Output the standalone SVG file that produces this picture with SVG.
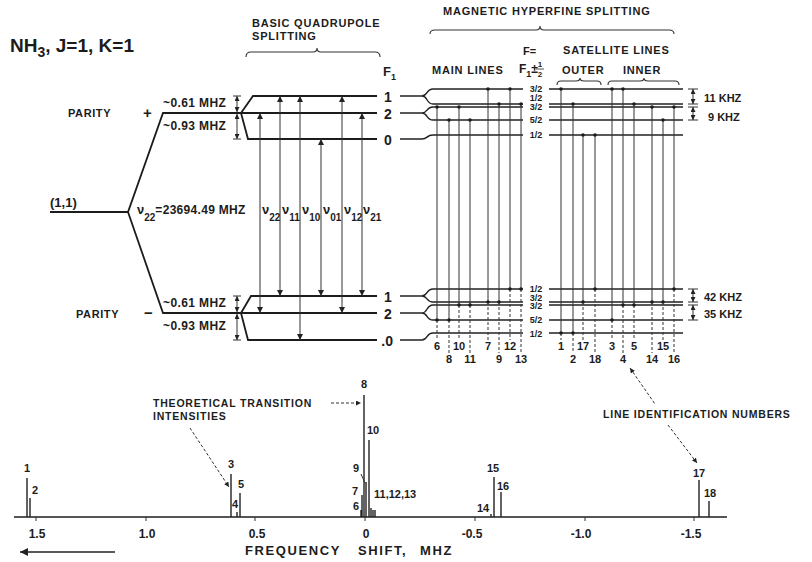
<svg xmlns="http://www.w3.org/2000/svg" width="812" height="562" viewBox="0 0 812 562">
<defs>
<style>
text{font-family:"Liberation Sans",Arial,sans-serif;font-weight:bold;fill:#1c1c1c}
.lv{stroke:#1c1c1c;stroke-width:1.8;fill:none}
.hf{stroke:#222;stroke-width:1.4;fill:none}
.tr{stroke:#333;stroke-width:1;fill:none}
.ds{stroke:#333;stroke-width:1;stroke-dasharray:3,2;fill:none}
.br{stroke:#333;stroke-width:1.1;fill:none}
.sp{stroke:#222;stroke-width:1.4}
.hd{font-size:11px;letter-spacing:0.8px}
.sm{font-size:9px}
.nm{font-size:11px}
.lvl{font-size:14px}
.tk{font-size:12px}
.mhz{font-size:12px;letter-spacing:0.4px}
.dot{fill:#1c1c1c}
</style>
<marker id="ah" viewBox="0 0 8 8" refX="8" refY="4" markerWidth="6" markerHeight="6" orient="auto-start-reverse"><path d="M0,0 L8,4 L0,8 z" fill="#222"/></marker>
<marker id="ah2" viewBox="0 0 8 8" refX="8" refY="4" markerWidth="5" markerHeight="5" orient="auto-start-reverse"><path d="M0,0 L8,4 L0,8 z" fill="#222"/></marker>
</defs>
<rect width="812" height="562" fill="#fff"/>

<!-- Title -->
<g id="title">
<text x="10" y="52" font-size="19">NH<tspan dy="5" font-size="14">3</tspan><tspan dy="-5">, J=1, K=1</tspan></text>
</g>

<!-- Headings -->
<g id="quad-heading">
<text class="hd" x="252" y="27">BASIC QUADRUPOLE</text>
<text class="hd" x="252" y="40">SPLITTING</text>
<path class="br" d="M246,57 Q246,52 251,52 L313,52 Q317,52 317,48 Q317,52 321,52 L375,52 Q380,52 380,57"/>
</g>
<g id="mag-heading">
<text class="hd" x="443" y="15">MAGNETIC HYPERFINE SPLITTING</text>
<path class="br" d="M430,34 Q430,30 435,30 L536,30 Q540,30 540,26 Q540,30 544,30 L669,30 Q674,30 674,34"/>
<text class="hd" x="432" y="74">MAIN LINES</text>
<text class="hd" x="563" y="54">SATELLITE LINES</text>
<text class="hd" x="562" y="74">OUTER</text>
<text class="hd" x="623" y="74">INNER</text>
<path class="br" d="M557,85 Q557,81 561,81 L576,81 Q580,81 580,78 Q580,81 584,81 L597,81 Q601,81 601,85"/>
<path class="br" d="M608,85 Q608,81 612,81 L640,81 Q644,81 644,78 Q644,81 648,81 L675,81 Q679,81 679,85"/>
<text x="523" y="55" font-size="11">F=</text>
<text x="519" y="73" font-size="12">F<tspan dy="4" font-size="9">1</tspan><tspan dy="-4">±</tspan></text>
<text x="540" y="67" font-size="8" text-anchor="middle">1</text>
<line x1="536" y1="69" x2="544" y2="69" stroke="#222" stroke-width="0.8"/>
<text x="540" y="77" font-size="8" text-anchor="middle">2</text>
<text x="383" y="76" font-size="13">F<tspan dy="4" font-size="9">1</tspan></text>
</g>

<!-- Left energy level tree -->
<g id="levels-left">
<path class="lv" d="M50,212 L128,212 L163,113 L377,113"/>
<path class="lv" d="M128,212 L163,313 L377,313"/>
<path class="lv" d="M241,113 L253,96 L377,96"/>
<path class="lv" d="M241,113 L248,139 L377,139"/>
<path class="lv" d="M241,313 L251,296 L377,296"/>
<path class="lv" d="M241,313 L248,340 L377,340"/>
<text x="50" y="207" font-size="13">(1,1)</text>
<text x="137" y="214" font-size="13">ν<tspan dy="7" font-size="10">22</tspan><tspan dy="-7" font-size="12" letter-spacing="0.3">=23694.49 MHZ</tspan></text>
<text x="68" y="117" font-size="11" letter-spacing="0.6">PARITY</text>
<text x="143" y="118" font-size="15">+</text>
<text x="76" y="318" font-size="11" letter-spacing="0.6">PARITY</text>
<text x="144" y="318" font-size="15">−</text>
<text class="mhz" x="163" y="107">~0.61 MHZ</text>
<text class="mhz" x="163" y="130">~0.93 MHZ</text>
<text class="mhz" x="163" y="307">~0.61 MHZ</text>
<text class="mhz" x="163" y="330">~0.93 MHZ</text>
<text class="lvl" x="388" y="102" text-anchor="middle">1</text>
<text class="lvl" x="388" y="119" text-anchor="middle">2</text>
<text class="lvl" x="388" y="145" text-anchor="middle">0</text>
<text class="lvl" x="388" y="302" text-anchor="middle">1</text>
<text class="lvl" x="388" y="319" text-anchor="middle">2</text>
<text class="lvl" x="393" y="346" text-anchor="end">.0</text>
</g>

<!-- dimension markers left -->
<g id="dims-left">
<line class="tr" x1="237" y1="96" x2="237" y2="112" marker-start="url(#ah2)" marker-end="url(#ah2)"/>
<line class="tr" x1="237" y1="114" x2="237" y2="139" marker-start="url(#ah2)" marker-end="url(#ah2)"/>
<line class="tr" x1="233" y1="96" x2="241" y2="96"/>
<line class="tr" x1="233" y1="139" x2="241" y2="139"/>
<line class="tr" x1="237" y1="296" x2="237" y2="312" marker-start="url(#ah2)" marker-end="url(#ah2)"/>
<line class="tr" x1="237" y1="314" x2="237" y2="340" marker-start="url(#ah2)" marker-end="url(#ah2)"/>
<line class="tr" x1="233" y1="296" x2="241" y2="296"/>
<line class="tr" x1="233" y1="340" x2="241" y2="340"/>
</g>

<!-- quadrupole transitions -->
<g id="quad-transitions">
<line class="tr" x1="260" y1="113" x2="260" y2="313" marker-start="url(#ah)" marker-end="url(#ah)"/>
<line class="tr" x1="280" y1="96" x2="280" y2="296" marker-start="url(#ah)" marker-end="url(#ah)"/>
<line class="tr" x1="300" y1="96" x2="300" y2="340" marker-start="url(#ah)" marker-end="url(#ah)"/>
<line class="tr" x1="321" y1="139" x2="321" y2="296" marker-start="url(#ah)" marker-end="url(#ah)"/>
<line class="tr" x1="342" y1="96" x2="342" y2="313" marker-start="url(#ah)" marker-end="url(#ah)"/>
<line class="tr" x1="362" y1="113" x2="362" y2="296" marker-start="url(#ah)" marker-end="url(#ah)"/>
<text x="262" y="214" font-size="13">ν<tspan dy="7" font-size="10">22</tspan></text>
<text x="282" y="214" font-size="13">ν<tspan dy="7" font-size="10">11</tspan></text>
<text x="302" y="214" font-size="13">ν<tspan dy="7" font-size="10">10</tspan></text>
<text x="323" y="214" font-size="13">ν<tspan dy="7" font-size="10">01</tspan></text>
<text x="344" y="214" font-size="13">ν<tspan dy="7" font-size="10">12</tspan></text>
<text x="363" y="214" font-size="13">ν<tspan dy="7" font-size="10">21</tspan></text>
</g>

<!-- hyperfine levels -->
<g id="hyperfine-levels">
<path class="hf" d="M400,96 L422,96 C428,96 426,89 433,89 M422,96 C428,96 426,104 433,104"/>
<path class="hf" d="M400,113 L422,113 C428,113 426,107 433,107 M422,113 C428,113 426,120 433,120"/>
<path class="hf" d="M400,139 L422,139 C428,139 426,135 433,135"/>
<path class="hf" d="M400,296 L422,296 C428,296 426,289 433,289 M422,296 C428,296 426,302 433,302"/>
<path class="hf" d="M400,313 L422,313 C428,313 426,305 433,305 M422,313 C428,313 426,320 433,320"/>
<path class="hf" d="M400,340 L422,340 C428,340 426,333 433,333"/>
<path class="hf" d="M433,89 H523 M549,89 H683 M433,104 H523 M549,104 H683 M433,107 H523 M549,107 H683 M433,120 H523 M549,120 H683 M433,135 H523 M549,135 H683"/>
<path class="hf" d="M433,289 H523 M549,289 H683 M433,302 H523 M549,302 H683 M433,305 H523 M549,305 H683 M433,320 H523 M549,320 H683 M433,333 H523 M549,333 H683"/>
<g class="sm" text-anchor="middle">
<text x="536" y="92">3/2</text>
<text x="536" y="101">1/2</text>
<text x="536" y="110">3/2</text>
<text x="536" y="123">5/2</text>
<text x="536" y="138">1/2</text>
<text x="536" y="292">1/2</text>
<text x="536" y="300.5">3/2</text>
<text x="536" y="309">3/2</text>
<text x="536" y="323">5/2</text>
<text x="536" y="336.5">1/2</text>
</g>
</g>

<!-- KHZ markers -->
<g id="dims-right">
<path class="tr" d="M688,89 H698 M688,104 H698 M688,107 H698 M688,120 H698 M688,289 H698 M688,302 H698 M688,305 H698 M688,320 H698"/>
<line class="tr" x1="693" y1="89" x2="693" y2="104" marker-start="url(#ah2)" marker-end="url(#ah2)"/>
<line class="tr" x1="693" y1="107" x2="693" y2="120" marker-start="url(#ah2)" marker-end="url(#ah2)"/>
<line class="tr" x1="693" y1="289" x2="693" y2="302" marker-start="url(#ah2)" marker-end="url(#ah2)"/>
<line class="tr" x1="693" y1="305" x2="693" y2="320" marker-start="url(#ah2)" marker-end="url(#ah2)"/>
<text x="704" y="102" font-size="11">11 KHZ</text>
<text x="708" y="121" font-size="11">9 KHZ</text>
<text x="704" y="301" font-size="11">42 KHZ</text>
<text x="704" y="318" font-size="11">35 KHZ</text>
</g>

<!-- hyperfine transitions -->
<g id="hf-transitions">
<path class="tr" d="M437,107 V320 M449,120 V320 M459,107 V305 M470,120 V305 M488,89 V302 M499,104 V302 M510,89 V289 M521,104 V289"/>
<path class="tr" d="M561,89 V333 M573,104 V333 M583,135 V302 M595,135 V289 M612,89 V320 M623,89 V305 M634,104 V305 M652,107 V302 M663,120 V302 M674,107 V289"/>
<path class="ds" d="M437,320 V340 M449,320 V353 M459,305 V340 M470,305 V353 M488,302 V340 M499,302 V353 M510,289 V340 M521,289 V353"/>
<path class="ds" d="M561,333 V340 M573,333 V353 M583,302 V340 M595,289 V353 M612,320 V340 M623,305 V353 M634,305 V340 M652,302 V353 M663,302 V340 M674,289 V353"/>
<g class="dot">
<circle cx="437" cy="107" r="1.8"/><circle cx="437" cy="320" r="1.8"/>
<circle cx="449" cy="120" r="1.8"/><circle cx="449" cy="320" r="1.8"/>
<circle cx="459" cy="107" r="1.8"/><circle cx="459" cy="305" r="1.8"/>
<circle cx="470" cy="120" r="1.8"/><circle cx="470" cy="305" r="1.8"/>
<circle cx="488" cy="89" r="1.8"/><circle cx="488" cy="302" r="1.8"/>
<circle cx="499" cy="104" r="1.8"/><circle cx="499" cy="302" r="1.8"/>
<circle cx="510" cy="89" r="1.8"/><circle cx="510" cy="289" r="1.8"/>
<circle cx="521" cy="104" r="1.8"/><circle cx="521" cy="289" r="1.8"/>
<circle cx="561" cy="89" r="1.8"/><circle cx="561" cy="333" r="1.8"/>
<circle cx="573" cy="104" r="1.8"/><circle cx="573" cy="333" r="1.8"/>
<circle cx="583" cy="135" r="1.8"/><circle cx="583" cy="302" r="1.8"/>
<circle cx="595" cy="135" r="1.8"/><circle cx="595" cy="289" r="1.8"/>
<circle cx="612" cy="89" r="1.8"/><circle cx="612" cy="320" r="1.8"/>
<circle cx="623" cy="89" r="1.8"/><circle cx="623" cy="305" r="1.8"/>
<circle cx="634" cy="104" r="1.8"/><circle cx="634" cy="305" r="1.8"/>
<circle cx="652" cy="107" r="1.8"/><circle cx="652" cy="302" r="1.8"/>
<circle cx="663" cy="120" r="1.8"/><circle cx="663" cy="302" r="1.8"/>
<circle cx="674" cy="107" r="1.8"/><circle cx="674" cy="289" r="1.8"/>
</g>
<g class="nm" text-anchor="middle">
<text x="437" y="350">6</text><text x="449" y="363">8</text>
<text x="459" y="350">10</text><text x="470" y="363">11</text>
<text x="488" y="350">7</text><text x="499" y="363">9</text>
<text x="510" y="350">12</text><text x="521" y="363">13</text>
<text x="561" y="350">1</text><text x="573" y="363">2</text>
<text x="583" y="350">17</text><text x="595" y="363">18</text>
<text x="612" y="350">3</text><text x="623" y="363">4</text>
<text x="634" y="350">5</text><text x="652" y="363">14</text>
<text x="663" y="350">15</text><text x="674" y="363">16</text>
</g>
</g>

<!-- spectrum -->
<g id="spectrum">
<line x1="14" y1="517" x2="727" y2="517" stroke="#1c1c1c" stroke-width="1.6"/>
<path class="tr" d="M36,517 V521 M146,517 V521 M255,517 V521 M365,517 V521 M475,517 V521 M585,517 V521 M694,517 V521"/>
<g class="tk" text-anchor="middle">
<text x="37" y="538">1.5</text>
<text x="147" y="538">1.0</text>
<text x="257" y="538">0.5</text>
<text x="366" y="538">0</text>
<text x="472" y="538">-0.5</text>
<text x="581" y="538">-1.0</text>
<text x="691" y="538">-1.5</text>
</g>
<text x="245" y="555" font-size="13" letter-spacing="1.6">FREQUENCY<tspan x="358">SHIFT,</tspan><tspan x="420">MHZ</tspan></text>
<line x1="115" y1="552" x2="20" y2="552" stroke="#222" stroke-width="1.4" marker-end="url(#ah)"/>
<path class="sp" d="M27,517 V478 M30,517 V498 M231,517 V474 M237,517 V512 M240,517 V493 M361,517 V510 M362,517 V495 M364,517 V395 M366,517 V482 M369,517 V440 M371,517 V508 M373,517 V510 M375,517 V510 M491,517 V514 M494,517 V477 M501,517 V492 M699,517 V480 M709,517 V501"/>
<line class="tr" x1="361" y1="474" x2="365" y2="483"/>
<g class="nm">
<text x="27" y="472" text-anchor="middle">1</text>
<text x="32" y="494">2</text>
<text x="231" y="468" text-anchor="middle">3</text>
<text x="232" y="508">4</text>
<text x="238" y="488">5</text>
<text x="353" y="510">6</text>
<text x="352" y="495">7</text>
<text x="364" y="388" text-anchor="middle">8</text>
<text x="353" y="472">9</text>
<text x="367" y="434">10</text>
<text x="374" y="498">11,12,13</text>
<text x="477" y="512">14</text>
<text x="487" y="472">15</text>
<text x="497" y="490">16</text>
<text x="699" y="477" text-anchor="middle">17</text>
<text x="704" y="497">18</text>
</g>
</g>

<!-- annotations -->
<g id="annotations">
<text x="153" y="407" font-size="10.5" letter-spacing="0.8">THEORETICAL TRANSITION</text>
<text x="153" y="420" font-size="10.5" letter-spacing="0.8">INTENSITIES</text>
<line class="ds" x1="331" y1="403" x2="361" y2="403" marker-end="url(#ah2)"/>
<line class="ds" x1="190" y1="428" x2="229" y2="487" marker-end="url(#ah2)"/>
<text x="603" y="418" font-size="10.5" letter-spacing="0.8">LINE IDENTIFICATION NUMBERS</text>
<line class="ds" x1="630" y1="368" x2="655" y2="404" marker-start="url(#ah2)"/>
<line class="ds" x1="668" y1="425" x2="697" y2="463" marker-end="url(#ah2)"/>
</g>
</svg>
